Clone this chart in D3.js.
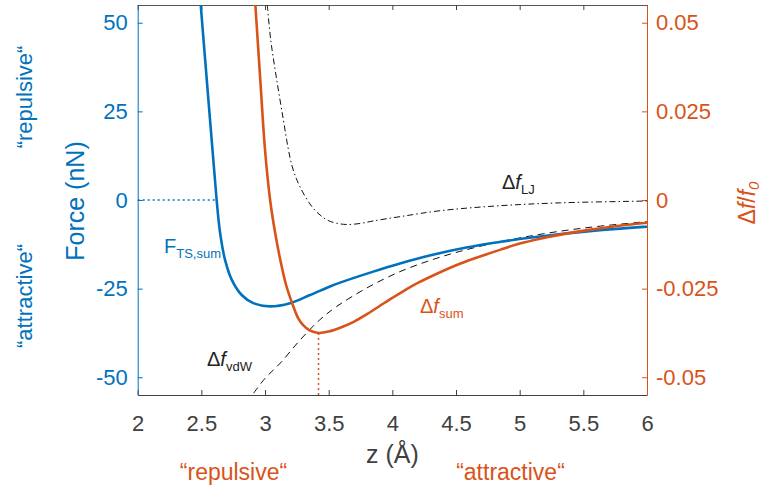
<!DOCTYPE html>
<html><head><meta charset="utf-8">
<script src="https://cdn.jsdelivr.net/npm/d3@7/dist/d3.min.js"></script>
<style>body{margin:0;background:#fff}svg{display:block}text{font-family:"Liberation Sans",Arial,Helvetica,sans-serif}</style>
</head><body>
<svg id="c" width="761" height="493"></svg>
<script>
// ---------- data ----------
const xTicks = [2, 2.5, 3, 3.5, 4, 4.5, 5, 5.5, 6];
const xTickLabels = ["2", "2.5", "3", "3.5", "4", "4.5", "5", "5.5", "6"];
const forceTicks = [50, 25, 0, -25, -50];
const forceTickLabels = ["50", "25", "0", "-25", "-50"];
const dfTicks = [0.05, 0.025, 0, -0.025, -0.05];
const dfTickLabels = ["0.05", "0.025", "0", "-0.025", "-0.05"];

// F_TS,sum (nN)
const forceZ = [2.495, 2.54, 2.59, 2.62, 2.646, 2.686, 2.74, 2.817, 2.908, 3.04, 3.196, 3.354, 3.51, 3.59, 3.85, 4.06, 4.3, 4.58, 4.85, 5.11, 5.63, 6.0];
const forceF = [55, 35, 13, 0, -9.0, -16.9, -22.6, -26.8, -29.1, -30.0, -29.1, -26.8, -24.4, -23.3, -20.2, -17.9, -15.6, -13.4, -11.8, -10.5, -8.5, -7.5];

// Δf_sum (Δf/f0)
const dfSumZ = [2.924, 2.963, 3.0, 3.04, 3.08, 3.12, 3.165, 3.21, 3.26, 3.30, 3.35, 3.42, 3.5, 3.6, 3.7, 3.8, 3.9, 4.0, 4.1, 4.2, 4.35, 4.53, 4.7, 4.85, 5.0, 5.16, 5.3, 5.53, 5.75, 6.0];
const dfSum = [0.055, 0.0338, 0.0141, 0, -0.0094, -0.0169, -0.0239, -0.0288, -0.0333, -0.0353, -0.0368, -0.0375, -0.0371, -0.0359, -0.0343, -0.0322, -0.0299, -0.0276, -0.0254, -0.0234, -0.0208, -0.0180, -0.0158, -0.0140, -0.0123, -0.0109, -0.0099, -0.0085, -0.0074, -0.0064];

// Δf_vdW
const dfVdwZ = [2.91, 3.0, 3.12, 3.275, 3.43, 3.56, 3.8, 4.06, 4.3, 4.53, 4.8, 5.03, 5.3, 5.6, 6.0];
const dfVdw = [-0.0545, -0.0503, -0.046, -0.0395, -0.0338, -0.0301, -0.0248, -0.0202, -0.0170, -0.0145, -0.01215, -0.0105, -0.0089, -0.0075, -0.0061];

// Δf_LJ
const dfLjZ = [3.018, 3.045, 3.092, 3.144, 3.181, 3.212, 3.244, 3.275, 3.322, 3.377, 3.432, 3.495, 3.574, 3.645, 3.746, 3.849, 4.06, 4.38, 4.85, 5.32, 6.0];
const dfLj = [0.055, 0.0451, 0.0339, 0.0226, 0.0147, 0.0096, 0.0062, 0.0037, 0.00056, -0.00226, -0.00423, -0.00578, -0.00663, -0.00691, -0.00663, -0.00592, -0.0047, -0.003, -0.0016, -0.0008, -0.0003];

const forceZeroZ = 2.62;     // where F_TS,sum crosses 0
const dfMinZ = 3.42, dfMin = -0.0375;  // minimum of Δf_sum

// ---------- layout ----------
const blue = "#0072BD", orange = "#D95319", dark = "#404040";
const L = 137.7, R = 647, T = 5, B = 395;
const svg = d3.select("#c");

const x = d3.scaleLinear().domain([2, 6]).range([L, R]);
const yF = d3.scaleLinear().domain([-55, 55]).range([B, T]);
const yD = d3.scaleLinear().domain([-0.055, 0.055]).range([B, T]);

svg.append("defs").append("clipPath").attr("id", "clip")
  .append("rect").attr("x", L).attr("y", T).attr("width", R - L).attr("height", B - T);

// box top line
svg.append("line").attr("x1", L).attr("x2", R).attr("y1", T + 0.5).attr("y2", T + 0.5)
  .attr("stroke", "#555").attr("stroke-width", 1);

// bottom axis
const xAxis = d3.axisBottom(x).tickValues(xTicks).tickFormat((d, i) => xTickLabels[i]).tickSizeInner(-5).tickSizeOuter(0).tickPadding(20);
const gx = svg.append("g").attr("transform", `translate(0,${B})`).call(xAxis);
gx.select(".domain").attr("stroke", dark);
gx.selectAll(".tick line").attr("stroke", dark);
gx.selectAll(".tick text").attr("fill", dark).attr("font-size", 22).attr("font-family", "Liberation Sans, Arial, sans-serif").attr("dy", "0.71em");

// top ticks
const xTop = d3.axisTop(x).tickValues(xTicks).tickFormat("").tickSizeInner(-5).tickSizeOuter(0);
const gxt = svg.append("g").attr("transform", `translate(0,${T})`).call(xTop);
gxt.select(".domain").remove();
gxt.selectAll(".tick line").attr("stroke", dark);

// left axis
const yAxisL = d3.axisLeft(yF).tickValues(forceTicks).tickFormat((d, i) => forceTickLabels[i]).tickSizeInner(-5).tickSizeOuter(0).tickPadding(10);
const gl = svg.append("g").attr("transform", `translate(${L},0)`).call(yAxisL);
gl.select(".domain").attr("stroke", blue);
gl.selectAll(".tick line").attr("stroke", blue);
gl.selectAll(".tick text").attr("fill", blue).attr("font-size", 22).attr("font-family", "Liberation Sans, Arial, sans-serif");

// right axis
const yAxisR = d3.axisRight(yD).tickValues(dfTicks).tickFormat((d, i) => dfTickLabels[i]).tickSizeInner(-5).tickSizeOuter(0).tickPadding(9);
const gr = svg.append("g").attr("transform", `translate(${R},0)`).call(yAxisR);
gr.select(".domain").attr("stroke", orange);
gr.selectAll(".tick line").attr("stroke", orange);
gr.selectAll(".tick text").attr("fill", orange).attr("font-size", 22).attr("font-family", "Liberation Sans, Arial, sans-serif");

// ---------- curves ----------
const plot = svg.append("g").attr("clip-path", "url(#clip)");
const smooth = d3.curveCatmullRom.alpha(0.5);
const lineF = d3.line().x(d => x(d[0])).y(d => yF(d[1])).curve(smooth);
const lineD = d3.line().x(d => x(d[0])).y(d => yD(d[1])).curve(smooth);

// helper lines
plot.append("line").attr("x1", L).attr("x2", x(forceZeroZ)).attr("y1", yF(0)).attr("y2", yF(0))
  .attr("stroke", blue).attr("stroke-width", 1.5).attr("stroke-dasharray", "2,3");
plot.append("line").attr("x1", x(dfMinZ)).attr("x2", x(dfMinZ)).attr("y1", yD(dfMin)).attr("y2", B)
  .attr("stroke", orange).attr("stroke-width", 1.5).attr("stroke-dasharray", "2,3");

plot.append("path").datum(d3.zip(dfLjZ, dfLj)).attr("d", lineD)
  .attr("fill", "none").attr("stroke", "#111").attr("stroke-width", 1).attr("stroke-dasharray", "6,3,1.5,3");
plot.append("path").datum(d3.zip(dfVdwZ, dfVdw)).attr("d", lineD)
  .attr("fill", "none").attr("stroke", "#111").attr("stroke-width", 1).attr("stroke-dasharray", "7,5");
plot.append("path").datum(d3.zip(forceZ, forceF)).attr("d", lineF)
  .attr("fill", "none").attr("stroke", blue).attr("stroke-width", 2.6);
plot.append("path").datum(d3.zip(dfSumZ, dfSum)).attr("d", lineD)
  .attr("fill", "none").attr("stroke", orange).attr("stroke-width", 2.6);

// ---------- annotations ----------
function label(px, py, main, italic, sub, color) {
  const t = svg.append("text").attr("x", px).attr("y", py).attr("fill", color).attr("font-size", 20);
  t.append("tspan").text(main);
  if (italic) t.append("tspan").attr("font-style", "italic").text(italic);
  t.append("tspan").attr("font-size", 13).attr("dy", 5).text(sub);
}
label(164, 253, "F", "", "TS,sum", blue);
label(207, 366, "Δ", "f", "vdW", "#222");
label(502, 189, "Δ", "f", "LJ", "#222");
label(420, 313, "Δ", "f", "sum", orange);

// axis titles
svg.append("text").attr("transform", "translate(84,201) rotate(-90)").attr("text-anchor", "middle")
  .attr("fill", blue).attr("font-size", 25).text("Force (nN)");
svg.append("text").attr("transform", "translate(32,97) rotate(-90)").attr("text-anchor", "middle")
  .attr("fill", blue).attr("font-size", 22).text("\u201Crepulsive\u201C");
svg.append("text").attr("transform", "translate(32,296) rotate(-90)").attr("text-anchor", "middle")
  .attr("fill", blue).attr("font-size", 22).text("\u201Cattractive\u201C");

svg.append("text").attr("x", (L + R) / 2).attr("y", 463).attr("text-anchor", "middle")
  .attr("fill", dark).attr("font-size", 25).text("z (Å)");
svg.append("text").attr("x", 233.5).attr("y", 480).attr("text-anchor", "middle")
  .attr("fill", orange).attr("font-size", 23).text("\u201Crepulsive\u201C");
svg.append("text").attr("x", 510.5).attr("y", 480).attr("text-anchor", "middle")
  .attr("fill", orange).attr("font-size", 23).text("\u201Cattractive\u201C");

const rl = svg.append("text").attr("transform", "translate(755,203) rotate(-90)").attr("text-anchor", "middle")
  .attr("fill", orange).attr("font-size", 23);
rl.append("tspan").text("Δ");
rl.append("tspan").attr("font-style", "italic").text("f");
rl.append("tspan").text("/");
rl.append("tspan").attr("font-style", "italic").text("f");
rl.append("tspan").attr("font-style", "italic").attr("font-size", 15).attr("dy", 4).text("0");
</script>
</body></html>
